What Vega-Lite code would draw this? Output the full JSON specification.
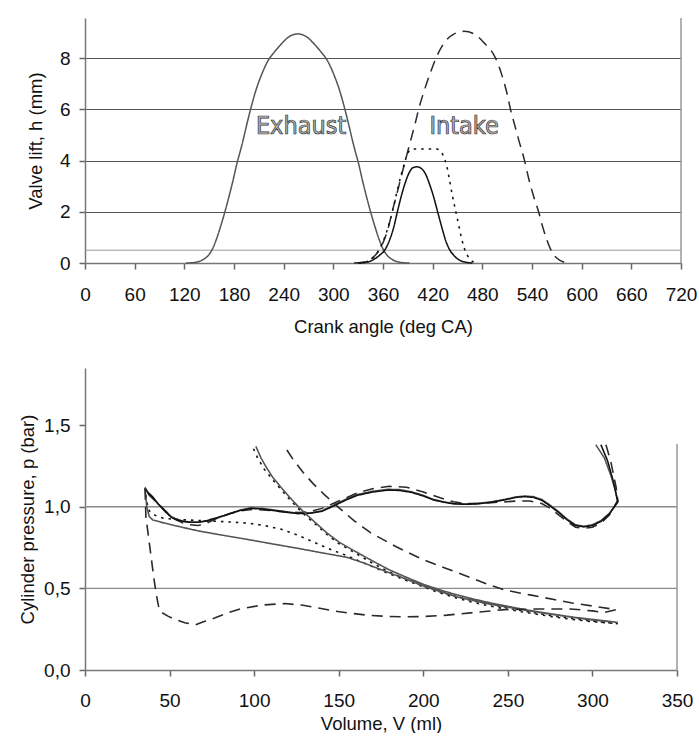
{
  "$schema": "https://vega.github.io/schema/vega-lite/v6.json",
  "background": "white",
  "padding": {"left": 18, "top": 17, "right": 0, "bottom": 0},
  "spacing": 32,
  "config": {
    "font": "Liberation Sans",
    "view": {"stroke": null},
    "axis": {
      "domainColor": "#777",
      "domainWidth": 1.5,
      "tickColor": "#666",
      "tickWidth": 1.5,
      "tickSize": 6,
      "labelFontSize": 19,
      "labelColor": "#111",
      "labelFlush": false,
      "labelOverlap": false,
      "titleFontSize": 18.5,
      "titleFontWeight": "normal",
      "titleColor": "#111",
      "labelPadding": 10
    }
  },
  "datasets": {
    "lift": [
      {"curve": "exhaust", "angle": 122, "h": 0}, {"curve": "exhaust", "angle": 132, "h": 0.02}, {"curve": "exhaust", "angle": 142, "h": 0.12}, {"curve": "exhaust", "angle": 149, "h": 0.3}, {"curve": "exhaust", "angle": 154, "h": 0.55}, {"curve": "exhaust", "angle": 159, "h": 0.95}, {"curve": "exhaust", "angle": 164, "h": 1.45}, {"curve": "exhaust", "angle": 169, "h": 2.0}, {"curve": "exhaust", "angle": 174, "h": 2.6}, {"curve": "exhaust", "angle": 179, "h": 3.25}, {"curve": "exhaust", "angle": 184, "h": 3.95}, {"curve": "exhaust", "angle": 187, "h": 4.3}, {"curve": "exhaust", "angle": 191, "h": 4.8}, {"curve": "exhaust", "angle": 195, "h": 5.35}, {"curve": "exhaust", "angle": 200, "h": 6.0}, {"curve": "exhaust", "angle": 207, "h": 6.8}, {"curve": "exhaust", "angle": 212, "h": 7.25}, {"curve": "exhaust", "angle": 222, "h": 7.95}, {"curve": "exhaust", "angle": 229, "h": 8.25}, {"curve": "exhaust", "angle": 237, "h": 8.55}, {"curve": "exhaust", "angle": 247, "h": 8.85}, {"curve": "exhaust", "angle": 257, "h": 8.95}, {"curve": "exhaust", "angle": 267, "h": 8.85}, {"curve": "exhaust", "angle": 277, "h": 8.55}, {"curve": "exhaust", "angle": 285, "h": 8.25}, {"curve": "exhaust", "angle": 292, "h": 7.95}, {"curve": "exhaust", "angle": 302, "h": 7.25}, {"curve": "exhaust", "angle": 307, "h": 6.8}, {"curve": "exhaust", "angle": 314, "h": 6.0}, {"curve": "exhaust", "angle": 319, "h": 5.35}, {"curve": "exhaust", "angle": 323, "h": 4.8}, {"curve": "exhaust", "angle": 327, "h": 4.3}, {"curve": "exhaust", "angle": 330, "h": 3.95}, {"curve": "exhaust", "angle": 335, "h": 3.25}, {"curve": "exhaust", "angle": 340, "h": 2.6}, {"curve": "exhaust", "angle": 345, "h": 2.0}, {"curve": "exhaust", "angle": 350, "h": 1.45}, {"curve": "exhaust", "angle": 355, "h": 0.95}, {"curve": "exhaust", "angle": 360, "h": 0.55}, {"curve": "exhaust", "angle": 365, "h": 0.3}, {"curve": "exhaust", "angle": 372, "h": 0.12}, {"curve": "exhaust", "angle": 382, "h": 0.02}, {"curve": "exhaust", "angle": 392, "h": 0},

      {"curve": "intake_full", "angle": 325, "h": 0}, {"curve": "intake_full", "angle": 335, "h": 0.03}, {"curve": "intake_full", "angle": 345, "h": 0.15}, {"curve": "intake_full", "angle": 352, "h": 0.35}, {"curve": "intake_full", "angle": 357, "h": 0.6}, {"curve": "intake_full", "angle": 362, "h": 0.95}, {"curve": "intake_full", "angle": 367, "h": 1.45}, {"curve": "intake_full", "angle": 371, "h": 2.0}, {"curve": "intake_full", "angle": 376, "h": 2.6}, {"curve": "intake_full", "angle": 381, "h": 3.25}, {"curve": "intake_full", "angle": 387, "h": 4.0}, {"curve": "intake_full", "angle": 391, "h": 4.5}, {"curve": "intake_full", "angle": 396, "h": 5.1}, {"curve": "intake_full", "angle": 400, "h": 5.6}, {"curve": "intake_full", "angle": 403, "h": 6.0}, {"curve": "intake_full", "angle": 410, "h": 6.75}, {"curve": "intake_full", "angle": 418, "h": 7.5}, {"curve": "intake_full", "angle": 424, "h": 8.0}, {"curve": "intake_full", "angle": 434, "h": 8.6}, {"curve": "intake_full", "angle": 446, "h": 8.95}, {"curve": "intake_full", "angle": 458, "h": 9.05}, {"curve": "intake_full", "angle": 470, "h": 8.95}, {"curve": "intake_full", "angle": 482, "h": 8.6}, {"curve": "intake_full", "angle": 496, "h": 8.0}, {"curve": "intake_full", "angle": 504, "h": 7.3}, {"curve": "intake_full", "angle": 510, "h": 6.6}, {"curve": "intake_full", "angle": 514, "h": 6.0}, {"curve": "intake_full", "angle": 519, "h": 5.4}, {"curve": "intake_full", "angle": 524, "h": 4.8}, {"curve": "intake_full", "angle": 531, "h": 4.0}, {"curve": "intake_full", "angle": 536, "h": 3.3}, {"curve": "intake_full", "angle": 542, "h": 2.6}, {"curve": "intake_full", "angle": 548, "h": 2.0}, {"curve": "intake_full", "angle": 553, "h": 1.4}, {"curve": "intake_full", "angle": 558, "h": 0.9}, {"curve": "intake_full", "angle": 563, "h": 0.5}, {"curve": "intake_full", "angle": 568, "h": 0.25}, {"curve": "intake_full", "angle": 574, "h": 0.1}, {"curve": "intake_full", "angle": 582, "h": 0},

      {"curve": "intake_short", "angle": 331, "h": 0}, {"curve": "intake_short", "angle": 340, "h": 0.03}, {"curve": "intake_short", "angle": 348, "h": 0.12}, {"curve": "intake_short", "angle": 355, "h": 0.28}, {"curve": "intake_short", "angle": 363, "h": 0.55}, {"curve": "intake_short", "angle": 368, "h": 0.9}, {"curve": "intake_short", "angle": 373, "h": 1.4}, {"curve": "intake_short", "angle": 377, "h": 1.95}, {"curve": "intake_short", "angle": 382, "h": 2.6}, {"curve": "intake_short", "angle": 387, "h": 3.15}, {"curve": "intake_short", "angle": 392, "h": 3.55}, {"curve": "intake_short", "angle": 396, "h": 3.72}, {"curve": "intake_short", "angle": 401, "h": 3.76}, {"curve": "intake_short", "angle": 406, "h": 3.7}, {"curve": "intake_short", "angle": 411, "h": 3.5}, {"curve": "intake_short", "angle": 416, "h": 3.1}, {"curve": "intake_short", "angle": 421, "h": 2.6}, {"curve": "intake_short", "angle": 426, "h": 2.0}, {"curve": "intake_short", "angle": 431, "h": 1.4}, {"curve": "intake_short", "angle": 436, "h": 0.85}, {"curve": "intake_short", "angle": 440, "h": 0.55}, {"curve": "intake_short", "angle": 446, "h": 0.28}, {"curve": "intake_short", "angle": 452, "h": 0.12}, {"curve": "intake_short", "angle": 460, "h": 0.03}, {"curve": "intake_short", "angle": 468, "h": 0},

      {"curve": "intake_mid", "angle": 330, "h": 0}, {"curve": "intake_mid", "angle": 340, "h": 0.05}, {"curve": "intake_mid", "angle": 348, "h": 0.2}, {"curve": "intake_mid", "angle": 355, "h": 0.5}, {"curve": "intake_mid", "angle": 362, "h": 1.0}, {"curve": "intake_mid", "angle": 368, "h": 1.6}, {"curve": "intake_mid", "angle": 372, "h": 2.1}, {"curve": "intake_mid", "angle": 377, "h": 2.8}, {"curve": "intake_mid", "angle": 382, "h": 3.45}, {"curve": "intake_mid", "angle": 386, "h": 3.9}, {"curve": "intake_mid", "angle": 390, "h": 4.3}, {"curve": "intake_mid", "angle": 395, "h": 4.45}, {"curve": "intake_mid", "angle": 410, "h": 4.45}, {"curve": "intake_mid", "angle": 425, "h": 4.45}, {"curve": "intake_mid", "angle": 430, "h": 4.35}, {"curve": "intake_mid", "angle": 434, "h": 4.1}, {"curve": "intake_mid", "angle": 437, "h": 3.8}, {"curve": "intake_mid", "angle": 440, "h": 3.3}, {"curve": "intake_mid", "angle": 444, "h": 2.6}, {"curve": "intake_mid", "angle": 448, "h": 2.0}, {"curve": "intake_mid", "angle": 452, "h": 1.4}, {"curve": "intake_mid", "angle": 455, "h": 0.95}, {"curve": "intake_mid", "angle": 458, "h": 0.6}, {"curve": "intake_mid", "angle": 462, "h": 0.3}, {"curve": "intake_mid", "angle": 466, "h": 0.12}, {"curve": "intake_mid", "angle": 472, "h": 0}
    ],
    "liftRefs": [{"h": 0.5}],
    "liftBorder": [{"angle": 720}],
    "liftLabels": [
      {"angle": 261, "h": 5.35, "label": "Exhaust"},
      {"angle": 458, "h": 5.35, "label": "Intake"}
    ],
    "pv": [
      {"curve": "s_exh", "V": 302, "p": 1.38}, {"curve": "s_exh", "V": 307, "p": 1.3}, {"curve": "s_exh", "V": 311, "p": 1.19}, {"curve": "s_exh", "V": 313.5, "p": 1.1}, {"curve": "s_exh", "V": 315, "p": 1.03}, {"curve": "s_exh", "V": 310, "p": 0.96}, {"curve": "s_exh", "V": 305, "p": 0.915}, {"curve": "s_exh", "V": 300, "p": 0.89}, {"curve": "s_exh", "V": 295, "p": 0.88}, {"curve": "s_exh", "V": 290, "p": 0.89}, {"curve": "s_exh", "V": 285, "p": 0.925}, {"curve": "s_exh", "V": 280, "p": 0.97}, {"curve": "s_exh", "V": 275, "p": 1.01}, {"curve": "s_exh", "V": 270, "p": 1.045}, {"curve": "s_exh", "V": 265, "p": 1.062}, {"curve": "s_exh", "V": 260, "p": 1.066}, {"curve": "s_exh", "V": 255, "p": 1.06}, {"curve": "s_exh", "V": 248, "p": 1.045}, {"curve": "s_exh", "V": 240, "p": 1.03}, {"curve": "s_exh", "V": 232, "p": 1.02}, {"curve": "s_exh", "V": 225, "p": 1.017}, {"curve": "s_exh", "V": 218, "p": 1.02}, {"curve": "s_exh", "V": 212, "p": 1.03}, {"curve": "s_exh", "V": 206, "p": 1.045}, {"curve": "s_exh", "V": 200, "p": 1.07}, {"curve": "s_exh", "V": 193, "p": 1.092}, {"curve": "s_exh", "V": 186, "p": 1.105}, {"curve": "s_exh", "V": 179, "p": 1.107}, {"curve": "s_exh", "V": 170, "p": 1.095}, {"curve": "s_exh", "V": 161, "p": 1.075}, {"curve": "s_exh", "V": 155, "p": 1.05}, {"curve": "s_exh", "V": 150, "p": 1.025}, {"curve": "s_exh", "V": 145, "p": 1.0}, {"curve": "s_exh", "V": 140, "p": 0.975}, {"curve": "s_exh", "V": 133, "p": 0.962}, {"curve": "s_exh", "V": 126, "p": 0.96}, {"curve": "s_exh", "V": 119, "p": 0.97}, {"curve": "s_exh", "V": 112, "p": 0.98}, {"curve": "s_exh", "V": 105, "p": 0.99}, {"curve": "s_exh", "V": 98, "p": 0.994}, {"curve": "s_exh", "V": 92, "p": 0.98}, {"curve": "s_exh", "V": 87, "p": 0.964}, {"curve": "s_exh", "V": 82, "p": 0.945}, {"curve": "s_exh", "V": 77, "p": 0.927}, {"curve": "s_exh", "V": 72, "p": 0.912}, {"curve": "s_exh", "V": 67, "p": 0.905}, {"curve": "s_exh", "V": 62, "p": 0.906}, {"curve": "s_exh", "V": 58, "p": 0.912}, {"curve": "s_exh", "V": 54, "p": 0.925}, {"curve": "s_exh", "V": 51, "p": 0.94}, {"curve": "s_exh", "V": 47, "p": 0.98}, {"curve": "s_exh", "V": 43, "p": 1.02}, {"curve": "s_exh", "V": 40, "p": 1.06}, {"curve": "s_exh", "V": 37, "p": 1.09}, {"curve": "s_exh", "V": 35.5, "p": 1.117},

      {"curve": "d_exh", "V": 308, "p": 1.38}, {"curve": "d_exh", "V": 311, "p": 1.27}, {"curve": "d_exh", "V": 314, "p": 1.12}, {"curve": "d_exh", "V": 315, "p": 1.04}, {"curve": "d_exh", "V": 310, "p": 0.95}, {"curve": "d_exh", "V": 305, "p": 0.9}, {"curve": "d_exh", "V": 300, "p": 0.875}, {"curve": "d_exh", "V": 295, "p": 0.868}, {"curve": "d_exh", "V": 290, "p": 0.875}, {"curve": "d_exh", "V": 285, "p": 0.91}, {"curve": "d_exh", "V": 280, "p": 0.95}, {"curve": "d_exh", "V": 275, "p": 0.99}, {"curve": "d_exh", "V": 270, "p": 1.02}, {"curve": "d_exh", "V": 263, "p": 1.035}, {"curve": "d_exh", "V": 255, "p": 1.035}, {"curve": "d_exh", "V": 248, "p": 1.03}, {"curve": "d_exh", "V": 240, "p": 1.025}, {"curve": "d_exh", "V": 232, "p": 1.02}, {"curve": "d_exh", "V": 225, "p": 1.02}, {"curve": "d_exh", "V": 218, "p": 1.03}, {"curve": "d_exh", "V": 210, "p": 1.055}, {"curve": "d_exh", "V": 200, "p": 1.09}, {"curve": "d_exh", "V": 190, "p": 1.12}, {"curve": "d_exh", "V": 180, "p": 1.125}, {"curve": "d_exh", "V": 170, "p": 1.11}, {"curve": "d_exh", "V": 161, "p": 1.085}, {"curve": "d_exh", "V": 150, "p": 1.035}, {"curve": "d_exh", "V": 140, "p": 0.99}, {"curve": "d_exh", "V": 133, "p": 0.97}, {"curve": "d_exh", "V": 126, "p": 0.965}, {"curve": "d_exh", "V": 119, "p": 0.968}, {"curve": "d_exh", "V": 112, "p": 0.975}, {"curve": "d_exh", "V": 100, "p": 0.985}, {"curve": "d_exh", "V": 92, "p": 0.975}, {"curve": "d_exh", "V": 85, "p": 0.955}, {"curve": "d_exh", "V": 78, "p": 0.93}, {"curve": "d_exh", "V": 72, "p": 0.9}, {"curve": "d_exh", "V": 67, "p": 0.885}, {"curve": "d_exh", "V": 62, "p": 0.89}, {"curve": "d_exh", "V": 58, "p": 0.9}, {"curve": "d_exh", "V": 54, "p": 0.92}, {"curve": "d_exh", "V": 50, "p": 0.95}, {"curve": "d_exh", "V": 46, "p": 0.99}, {"curve": "d_exh", "V": 42, "p": 1.03}, {"curve": "d_exh", "V": 38, "p": 1.07}, {"curve": "d_exh", "V": 35.5, "p": 1.11},

      {"curve": "o_exh", "V": 305, "p": 1.38}, {"curve": "o_exh", "V": 309, "p": 1.28}, {"curve": "o_exh", "V": 312.5, "p": 1.15}, {"curve": "o_exh", "V": 315, "p": 1.03}, {"curve": "o_exh", "V": 310, "p": 0.955}, {"curve": "o_exh", "V": 305, "p": 0.91}, {"curve": "o_exh", "V": 300, "p": 0.885}, {"curve": "o_exh", "V": 295, "p": 0.877}, {"curve": "o_exh", "V": 290, "p": 0.885}, {"curve": "o_exh", "V": 285, "p": 0.92}, {"curve": "o_exh", "V": 280, "p": 0.965}, {"curve": "o_exh", "V": 275, "p": 1.005}, {"curve": "o_exh", "V": 270, "p": 1.04}, {"curve": "o_exh", "V": 265, "p": 1.058}, {"curve": "o_exh", "V": 260, "p": 1.062}, {"curve": "o_exh", "V": 255, "p": 1.058}, {"curve": "o_exh", "V": 248, "p": 1.042}, {"curve": "o_exh", "V": 240, "p": 1.027}, {"curve": "o_exh", "V": 232, "p": 1.018}, {"curve": "o_exh", "V": 225, "p": 1.015}, {"curve": "o_exh", "V": 218, "p": 1.018}, {"curve": "o_exh", "V": 212, "p": 1.028}, {"curve": "o_exh", "V": 206, "p": 1.042}, {"curve": "o_exh", "V": 200, "p": 1.066}, {"curve": "o_exh", "V": 193, "p": 1.088}, {"curve": "o_exh", "V": 186, "p": 1.1}, {"curve": "o_exh", "V": 179, "p": 1.102}, {"curve": "o_exh", "V": 170, "p": 1.09}, {"curve": "o_exh", "V": 161, "p": 1.07}, {"curve": "o_exh", "V": 155, "p": 1.045}, {"curve": "o_exh", "V": 150, "p": 1.02}, {"curve": "o_exh", "V": 145, "p": 0.995}, {"curve": "o_exh", "V": 140, "p": 0.972}, {"curve": "o_exh", "V": 133, "p": 0.96}, {"curve": "o_exh", "V": 126, "p": 0.958}, {"curve": "o_exh", "V": 119, "p": 0.966}, {"curve": "o_exh", "V": 112, "p": 0.976}, {"curve": "o_exh", "V": 105, "p": 0.986}, {"curve": "o_exh", "V": 98, "p": 0.99}, {"curve": "o_exh", "V": 92, "p": 0.978}, {"curve": "o_exh", "V": 87, "p": 0.962}, {"curve": "o_exh", "V": 82, "p": 0.945}, {"curve": "o_exh", "V": 77, "p": 0.93}, {"curve": "o_exh", "V": 72, "p": 0.915}, {"curve": "o_exh", "V": 67, "p": 0.905}, {"curve": "o_exh", "V": 62, "p": 0.905}, {"curve": "o_exh", "V": 58, "p": 0.91}, {"curve": "o_exh", "V": 54, "p": 0.92}, {"curve": "o_exh", "V": 51, "p": 0.935}, {"curve": "o_exh", "V": 47, "p": 0.975}, {"curve": "o_exh", "V": 43, "p": 1.02}, {"curve": "o_exh", "V": 40, "p": 1.06}, {"curve": "o_exh", "V": 37, "p": 1.09}, {"curve": "o_exh", "V": 35.5, "p": 1.115},

      {"curve": "s_cyc", "V": 35.5, "p": 1.117}, {"curve": "s_cyc", "V": 36.5, "p": 1.03}, {"curve": "s_cyc", "V": 38, "p": 0.975}, {"curve": "s_cyc", "V": 40, "p": 0.955}, {"curve": "s_cyc", "V": 43, "p": 0.94}, {"curve": "s_cyc", "V": 47, "p": 0.928}, {"curve": "s_cyc", "V": 55, "p": 0.922}, {"curve": "s_cyc", "V": 67, "p": 0.916}, {"curve": "s_cyc", "V": 80, "p": 0.91}, {"curve": "s_cyc", "V": 96, "p": 0.9}, {"curve": "s_cyc", "V": 106, "p": 0.885}, {"curve": "s_cyc", "V": 116, "p": 0.862}, {"curve": "s_cyc", "V": 126, "p": 0.825}, {"curve": "s_cyc", "V": 136, "p": 0.78}, {"curve": "s_cyc", "V": 146, "p": 0.735}, {"curve": "s_cyc", "V": 155, "p": 0.7}, {"curve": "s_cyc", "V": 165, "p": 0.655}, {"curve": "s_cyc", "V": 175, "p": 0.61}, {"curve": "s_cyc", "V": 189, "p": 0.552}, {"curve": "s_cyc", "V": 200, "p": 0.51}, {"curve": "s_cyc", "V": 209, "p": 0.475}, {"curve": "s_cyc", "V": 220, "p": 0.44}, {"curve": "s_cyc", "V": 228, "p": 0.418}, {"curve": "s_cyc", "V": 238, "p": 0.395}, {"curve": "s_cyc", "V": 248, "p": 0.375}, {"curve": "s_cyc", "V": 258, "p": 0.357}, {"curve": "s_cyc", "V": 268, "p": 0.34}, {"curve": "s_cyc", "V": 278, "p": 0.324}, {"curve": "s_cyc", "V": 288, "p": 0.31}, {"curve": "s_cyc", "V": 300, "p": 0.296}, {"curve": "s_cyc", "V": 315, "p": 0.284}, {"curve": "s_cyc", "V": 300, "p": 0.3}, {"curve": "s_cyc", "V": 288, "p": 0.315}, {"curve": "s_cyc", "V": 278, "p": 0.33}, {"curve": "s_cyc", "V": 268, "p": 0.346}, {"curve": "s_cyc", "V": 258, "p": 0.364}, {"curve": "s_cyc", "V": 248, "p": 0.384}, {"curve": "s_cyc", "V": 238, "p": 0.405}, {"curve": "s_cyc", "V": 228, "p": 0.428}, {"curve": "s_cyc", "V": 218, "p": 0.455}, {"curve": "s_cyc", "V": 209, "p": 0.482}, {"curve": "s_cyc", "V": 200, "p": 0.515}, {"curve": "s_cyc", "V": 189, "p": 0.56}, {"curve": "s_cyc", "V": 179, "p": 0.605}, {"curve": "s_cyc", "V": 169, "p": 0.66}, {"curve": "s_cyc", "V": 160, "p": 0.715}, {"curve": "s_cyc", "V": 150, "p": 0.775}, {"curve": "s_cyc", "V": 143, "p": 0.83}, {"curve": "s_cyc", "V": 136, "p": 0.895}, {"curve": "s_cyc", "V": 131, "p": 0.94}, {"curve": "s_cyc", "V": 126, "p": 0.99}, {"curve": "s_cyc", "V": 121, "p": 1.045}, {"curve": "s_cyc", "V": 116, "p": 1.105}, {"curve": "s_cyc", "V": 111, "p": 1.165}, {"curve": "s_cyc", "V": 106, "p": 1.23}, {"curve": "s_cyc", "V": 102, "p": 1.3}, {"curve": "s_cyc", "V": 99, "p": 1.37},

      {"curve": "o_cyc", "V": 35.5, "p": 1.115}, {"curve": "o_cyc", "V": 36.5, "p": 1.0}, {"curve": "o_cyc", "V": 38, "p": 0.94}, {"curve": "o_cyc", "V": 40, "p": 0.92}, {"curve": "o_cyc", "V": 45, "p": 0.905}, {"curve": "o_cyc", "V": 55, "p": 0.88}, {"curve": "o_cyc", "V": 67, "p": 0.852}, {"curve": "o_cyc", "V": 80, "p": 0.828}, {"curve": "o_cyc", "V": 96, "p": 0.8}, {"curve": "o_cyc", "V": 111, "p": 0.772}, {"curve": "o_cyc", "V": 126, "p": 0.745}, {"curve": "o_cyc", "V": 140, "p": 0.718}, {"curve": "o_cyc", "V": 155, "p": 0.69}, {"curve": "o_cyc", "V": 165, "p": 0.655}, {"curve": "o_cyc", "V": 175, "p": 0.615}, {"curve": "o_cyc", "V": 189, "p": 0.56}, {"curve": "o_cyc", "V": 200, "p": 0.515}, {"curve": "o_cyc", "V": 210, "p": 0.48}, {"curve": "o_cyc", "V": 220, "p": 0.448}, {"curve": "o_cyc", "V": 230, "p": 0.424}, {"curve": "o_cyc", "V": 240, "p": 0.402}, {"curve": "o_cyc", "V": 250, "p": 0.385}, {"curve": "o_cyc", "V": 260, "p": 0.367}, {"curve": "o_cyc", "V": 270, "p": 0.35}, {"curve": "o_cyc", "V": 280, "p": 0.335}, {"curve": "o_cyc", "V": 290, "p": 0.32}, {"curve": "o_cyc", "V": 300, "p": 0.306}, {"curve": "o_cyc", "V": 315, "p": 0.292}, {"curve": "o_cyc", "V": 300, "p": 0.31}, {"curve": "o_cyc", "V": 290, "p": 0.322}, {"curve": "o_cyc", "V": 280, "p": 0.337}, {"curve": "o_cyc", "V": 270, "p": 0.353}, {"curve": "o_cyc", "V": 260, "p": 0.37}, {"curve": "o_cyc", "V": 250, "p": 0.39}, {"curve": "o_cyc", "V": 240, "p": 0.41}, {"curve": "o_cyc", "V": 230, "p": 0.434}, {"curve": "o_cyc", "V": 220, "p": 0.46}, {"curve": "o_cyc", "V": 210, "p": 0.49}, {"curve": "o_cyc", "V": 200, "p": 0.525}, {"curve": "o_cyc", "V": 190, "p": 0.568}, {"curve": "o_cyc", "V": 180, "p": 0.613}, {"curve": "o_cyc", "V": 170, "p": 0.668}, {"curve": "o_cyc", "V": 160, "p": 0.725}, {"curve": "o_cyc", "V": 150, "p": 0.785}, {"curve": "o_cyc", "V": 143, "p": 0.84}, {"curve": "o_cyc", "V": 136, "p": 0.905}, {"curve": "o_cyc", "V": 131, "p": 0.952}, {"curve": "o_cyc", "V": 126, "p": 1.002}, {"curve": "o_cyc", "V": 121, "p": 1.058}, {"curve": "o_cyc", "V": 116, "p": 1.118}, {"curve": "o_cyc", "V": 111, "p": 1.18}, {"curve": "o_cyc", "V": 107, "p": 1.245}, {"curve": "o_cyc", "V": 104, "p": 1.3}, {"curve": "o_cyc", "V": 101, "p": 1.37},

      {"curve": "d_cyc", "V": 35.5, "p": 1.11}, {"curve": "d_cyc", "V": 36, "p": 0.94}, {"curve": "d_cyc", "V": 37.5, "p": 0.82}, {"curve": "d_cyc", "V": 39, "p": 0.7}, {"curve": "d_cyc", "V": 40.5, "p": 0.58}, {"curve": "d_cyc", "V": 42, "p": 0.47}, {"curve": "d_cyc", "V": 43.5, "p": 0.39}, {"curve": "d_cyc", "V": 45, "p": 0.355}, {"curve": "d_cyc", "V": 49, "p": 0.33}, {"curve": "d_cyc", "V": 53, "p": 0.31}, {"curve": "d_cyc", "V": 59, "p": 0.29}, {"curve": "d_cyc", "V": 65, "p": 0.276}, {"curve": "d_cyc", "V": 70, "p": 0.295}, {"curve": "d_cyc", "V": 77, "p": 0.32}, {"curve": "d_cyc", "V": 85, "p": 0.352}, {"curve": "d_cyc", "V": 92, "p": 0.375}, {"curve": "d_cyc", "V": 105, "p": 0.398}, {"curve": "d_cyc", "V": 118, "p": 0.407}, {"curve": "d_cyc", "V": 128, "p": 0.398}, {"curve": "d_cyc", "V": 138, "p": 0.38}, {"curve": "d_cyc", "V": 147, "p": 0.362}, {"curve": "d_cyc", "V": 155, "p": 0.35}, {"curve": "d_cyc", "V": 167, "p": 0.336}, {"curve": "d_cyc", "V": 179, "p": 0.328}, {"curve": "d_cyc", "V": 190, "p": 0.326}, {"curve": "d_cyc", "V": 199, "p": 0.327}, {"curve": "d_cyc", "V": 214, "p": 0.336}, {"curve": "d_cyc", "V": 228, "p": 0.35}, {"curve": "d_cyc", "V": 248, "p": 0.37}, {"curve": "d_cyc", "V": 268, "p": 0.374}, {"curve": "d_cyc", "V": 287, "p": 0.374}, {"curve": "d_cyc", "V": 300, "p": 0.362}, {"curve": "d_cyc", "V": 307, "p": 0.352}, {"curve": "d_cyc", "V": 314, "p": 0.37}, {"curve": "d_cyc", "V": 300, "p": 0.392}, {"curve": "d_cyc", "V": 288, "p": 0.41}, {"curve": "d_cyc", "V": 278, "p": 0.43}, {"curve": "d_cyc", "V": 263, "p": 0.46}, {"curve": "d_cyc", "V": 248, "p": 0.49}, {"curve": "d_cyc", "V": 238, "p": 0.525}, {"curve": "d_cyc", "V": 228, "p": 0.566}, {"curve": "d_cyc", "V": 214, "p": 0.62}, {"curve": "d_cyc", "V": 199, "p": 0.68}, {"curve": "d_cyc", "V": 184, "p": 0.755}, {"curve": "d_cyc", "V": 169, "p": 0.84}, {"curve": "d_cyc", "V": 159, "p": 0.915}, {"curve": "d_cyc", "V": 150, "p": 0.995}, {"curve": "d_cyc", "V": 142, "p": 1.07}, {"curve": "d_cyc", "V": 135, "p": 1.14}, {"curve": "d_cyc", "V": 129, "p": 1.21}, {"curve": "d_cyc", "V": 123, "p": 1.29}, {"curve": "d_cyc", "V": 118, "p": 1.37}
    ],
    "pvRefs": [{"p": 0.5}, {"p": 1.0}],
    "pvBorder": [{"V": 350, "p": 0, "p2": 1.385}]
  },
  "vconcat": [
    {
      "width": 596,
      "height": 245,
      "layer": [
        {
          "data": {"name": "liftRefs"},
          "mark": {"type": "rule", "color": "#9a9a9a", "strokeWidth": 1},
          "encoding": {"y": {"field": "h", "type": "quantitative", "scale": {"domain": [0, 9.57], "nice": false}}}
        },
        {
          "data": {"name": "liftBorder"},
          "mark": {"type": "rule", "color": "#999", "strokeWidth": 1.5},
          "encoding": {"x": {"field": "angle", "type": "quantitative"}}
        },
        {
          "data": {"name": "lift"},
          "mark": {"type": "line", "interpolate": "monotone"},
          "encoding": {
            "x": {
              "field": "angle", "type": "quantitative",
              "scale": {"domain": [0, 720], "nice": false},
              "axis": {"title": "Crank angle (deg CA)", "values": [0, 60, 120, 180, 240, 300, 360, 420, 480, 540, 600, 660, 720], "grid": false, "labelPadding": 16, "titlePadding": 13}
            },
            "y": {
              "field": "h", "type": "quantitative",
              "scale": {"domain": [0, 9.57], "nice": false},
              "axis": {"title": "Valve lift,  h  (mm)", "values": [0, 2, 4, 6, 8], "grid": true, "gridColor": "#555", "gridWidth": 1, "labelPadding": 9, "titlePadding": 14}
            },
            "color": {"field": "curve", "type": "nominal", "legend": null, "scale": {"domain": ["exhaust", "intake_full", "intake_short", "intake_mid"], "range": ["#555", "#2a2a2a", "#111", "#111"]}},
            "strokeDash": {"field": "curve", "type": "nominal", "legend": null, "scale": {"domain": ["exhaust", "intake_full", "intake_short", "intake_mid"], "range": [[1, 0], [11, 7], [1, 0], [2.5, 5]]}},
            "strokeWidth": {"field": "curve", "type": "nominal", "legend": null, "scale": {"domain": ["exhaust", "intake_full", "intake_short", "intake_mid"], "range": [1.5, 1.6, 1.7, 2]}}
          }
        },
        {
          "data": {"name": "liftLabels"},
          "mark": {"type": "text", "font": "DejaVu Sans Condensed", "fontSize": 25, "fill": "#b5b5b5", "stroke": "#333", "strokeWidth": 0.7, "align": "center", "baseline": "middle"},
          "encoding": {
            "x": {"field": "angle", "type": "quantitative"},
            "y": {"field": "h", "type": "quantitative"},
            "text": {"field": "label"}
          }
        }
      ]
    },
    {
      "width": 592,
      "height": 302,
      "layer": [
        {
          "data": {"name": "pvRefs"},
          "mark": {"type": "rule", "color": "#8a8a8a", "strokeWidth": 1.3},
          "encoding": {"y": {"field": "p", "type": "quantitative", "scale": {"domain": [0, 1.85], "nice": false}}}
        },
        {
          "data": {"name": "pvBorder"},
          "mark": {"type": "rule", "color": "#999", "strokeWidth": 1.5},
          "encoding": {
            "x": {"field": "V", "type": "quantitative"},
            "y": {"field": "p", "type": "quantitative"},
            "y2": {"field": "p2"}
          }
        },
        {
          "data": {"name": "pv"},
          "mark": {"type": "line", "interpolate": "linear"},
          "encoding": {
            "x": {
              "field": "V", "type": "quantitative",
              "scale": {"domain": [0, 350], "nice": false},
              "axis": {"title": "Volume,  V  (ml)", "values": [0, 50, 100, 150, 200, 250, 300, 350], "grid": false, "labelPadding": 15, "titlePadding": 4}
            },
            "y": {
              "field": "p", "type": "quantitative",
              "scale": {"domain": [0, 1.85], "nice": false},
              "axis": {"title": "Cylinder pressure,  p  (bar)", "values": [0, 0.5, 1.0, 1.5], "grid": false, "labelExpr": "replace(format(datum.value, '.1f'), '.', ',')", "labelPadding": 9, "titlePadding": 6}
            },
            "order": {"value": null},
            "detail": {"field": "curve", "type": "nominal"},
            "color": {"field": "curve", "type": "nominal", "legend": null, "scale": {"domain": ["s_exh", "d_exh", "o_exh", "s_cyc", "o_cyc", "d_cyc"], "range": ["#111", "#666", "#111", "#111", "#111", "#666"]}},
            "strokeDash": {"field": "curve", "type": "nominal", "legend": null, "scale": {"domain": ["s_exh", "d_exh", "o_exh", "s_cyc", "o_cyc", "d_cyc"], "range": [[1, 0], [12, 6], [2, 4], [1, 0], [2, 4], [12, 6]]}},
            "strokeWidth": {"field": "curve", "type": "nominal", "legend": null, "scale": {"domain": ["s_exh", "d_exh", "o_exh", "s_cyc", "o_cyc", "d_cyc"], "range": [1.6, 1.5, 1.8, 1.6, 1.8, 1.5]}}
          }
        }
      ]
    }
  ]
}
